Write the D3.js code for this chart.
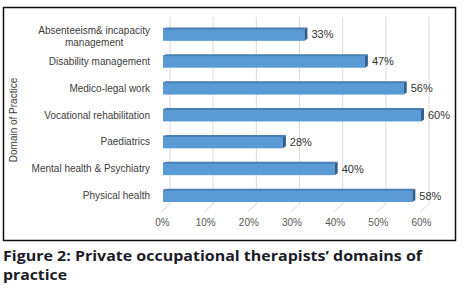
<!DOCTYPE html>
<html lang="en">
<head>
<meta charset="utf-8">
<title>Private occupational therapists' domains of practice</title>
<script src="https://cdn.jsdelivr.net/npm/d3@7"></script>
<style>
  body { margin: 0; background: #fff; }
  .tick text { fill: #595959; }
</style>
</head>
<body>
<script>
// data
var categories = ["Absenteeism& incapacity management", "Disability management", "Medico-legal work",
                  "Vocational rehabilitation", "Paediatrics", "Mental health & Psychiatry", "Physical health"];
var labelLines = [["Absenteeism& incapacity", "management"], ["Disability management"], ["Medico-legal work"],
                  ["Vocational rehabilitation"], ["Paediatrics"], ["Mental health & Psychiatry"], ["Physical health"]];
var values = [0.33, 0.47, 0.56, 0.60, 0.28, 0.40, 0.58];
var ticks = [0, 0.1, 0.2, 0.3, 0.4, 0.5, 0.6];

var w = 465, h = 289;
var depth = 8;      // back wall offset
var barDepth = 3;   // bar side thickness
var labelRight = 150;

var svg = d3.select("body").append("svg")
    .attr("width", w)
    .attr("height", h)
    .style("font-family", "Arial, 'Liberation Sans', sans-serif");

// chart frame
svg.append("rect")
    .attr("x", 3.5).attr("y", 7.5)
    .attr("width", 452).attr("height", 233)
    .attr("fill", "none")
    .attr("stroke", "#111")
    .attr("stroke-width", 1.5);

var x = d3.scaleLinear().domain([0, 0.6]).range([162, 421]);
var y = d3.scaleBand().domain(categories).range([21, 209]).paddingInner(0.52).paddingOuter(0.26);

// back wall gridlines + floor diagonals
svg.selectAll("line.grid")
  .data(ticks)
  .enter().append("line")
    .attr("class", "grid")
    .attr("x1", function(d) { return x(d) + depth; })
    .attr("x2", function(d) { return x(d) + depth; })
    .attr("y1", 17)
    .attr("y2", 204)
    .attr("stroke", "#d9d9d9")
    .attr("stroke-width", 1);

svg.selectAll("line.floor")
  .data(ticks)
  .enter().append("line")
    .attr("class", "floor")
    .attr("x1", function(d) { return x(d) - 1; })
    .attr("x2", function(d) { return x(d) + depth; })
    .attr("y1", 212)
    .attr("y2", 204)
    .attr("stroke", "#d9d9d9")
    .attr("stroke-width", 1);

// bars: front face, top face, right side
var bars = svg.selectAll("g.bar")
  .data(categories)
  .enter().append("g")
    .attr("class", "bar");

bars.append("rect")
    .attr("x", x(0) + 1)
    .attr("y", function(d) { return y(d); })
    .attr("width", function(d, i) { return x(values[i]) - x(0) - 1; })
    .attr("height", y.bandwidth())
    .attr("fill", "#5b9bd5");

bars.append("path")
    .attr("d", function(d, i) {
      var x0 = x(0) + 1, x1 = x(values[i]), t = y(d);
      return "M" + x0 + "," + (t + 1.5) + "L" + (x0 + barDepth) + "," + (t - 0.5) +
             "L" + (x1 + barDepth) + "," + (t - 0.5) + "L" + x1 + "," + (t + 1.5) + "Z";
    })
    .attr("fill", "#4a7fb5");

bars.append("path")
    .attr("d", function(d, i) {
      var x1 = x(values[i]), t = y(d), b = y(d) + y.bandwidth();
      return "M" + x1 + "," + (t + 1.5) + "L" + (x1 + barDepth) + "," + (t - 0.5) +
             "L" + (x1 + barDepth) + "," + (b - 2) + "L" + x1 + "," + b + "Z";
    })
    .attr("fill", "#2f5f8f");

// value labels
svg.selectAll("text.value")
  .data(categories)
  .enter().append("text")
    .attr("class", "value")
    .attr("x", function(d, i) { return x(values[i]) + barDepth + 4; })
    .attr("y", function(d) { return y(d) + y.bandwidth() / 2 + 4; })
    .attr("font-size", "11px")
    .attr("fill", "#333")
    .text(function(d, i) { return Math.round(values[i] * 100) + "%"; });

// category labels (multi-line ones centred on their widest line)
var cat = svg.selectAll("text.cat")
  .data(categories)
  .enter().append("text")
    .attr("class", "cat")
    .attr("font-size", "10px")
    .attr("fill", "#404040")
    .attr("y", function(d, i) {
      var n = labelLines[i].length;
      return y(d) + y.bandwidth() / 2 + 3.5 - (n - 1) * 4;
    });

cat.each(function(d, i) {
  var el = d3.select(this);
  var lines = labelLines[i];
  lines.forEach(function(line, j) {
    el.append("tspan")
      .attr("dy", j == 0 ? 0 : 12)
      .text(line);
  });
  if (lines.length == 1) {
    el.attr("text-anchor", "end").selectAll("tspan").attr("x", labelRight);
  } else {
    var maxW = 0;
    el.selectAll("tspan").each(function() { maxW = Math.max(maxW, this.getComputedTextLength()); });
    el.attr("text-anchor", "middle").selectAll("tspan").attr("x", labelRight - maxW / 2);
  }
});

// x axis
var xAxis = d3.axisBottom(x)
    .tickValues(ticks)
    .tickFormat(d3.format(".0%"))
    .tickSize(0)
    .tickPadding(0);

svg.append("g")
    .attr("transform", "translate(0,219)")
    .call(xAxis)
    .call(function(g) { g.select(".domain").remove(); })
    .selectAll("text")
    .attr("font-size", "10px")
    .attr("font-family", "Arial, 'Liberation Sans', sans-serif");

// y axis title
svg.append("text")
    .attr("transform", "translate(17,120) rotate(-90)")
    .attr("text-anchor", "middle")
    .attr("font-size", "10px")
    .attr("fill", "#404040")
    .text("Domain of Practice");

// caption
svg.append("text")
    .attr("x", 3)
    .attr("y", 261)
    .attr("font-family", "'Open Sans', sans-serif")
    .attr("font-weight", "bold")
    .attr("font-size", "14px")
    .attr("textLength", 419)
    .attr("lengthAdjust", "spacingAndGlyphs")
    .attr("fill", "#1c1c28")
    .text("Figure 2: Private occupational therapists\u2019 domains of");

svg.append("text")
    .attr("x", 3)
    .attr("y", 280)
    .attr("font-family", "'Open Sans', sans-serif")
    .attr("font-weight", "bold")
    .attr("font-size", "14px")
    .attr("textLength", 64)
    .attr("lengthAdjust", "spacingAndGlyphs")
    .attr("fill", "#1c1c28")
    .text("practice");
</script>
</body>
</html>
